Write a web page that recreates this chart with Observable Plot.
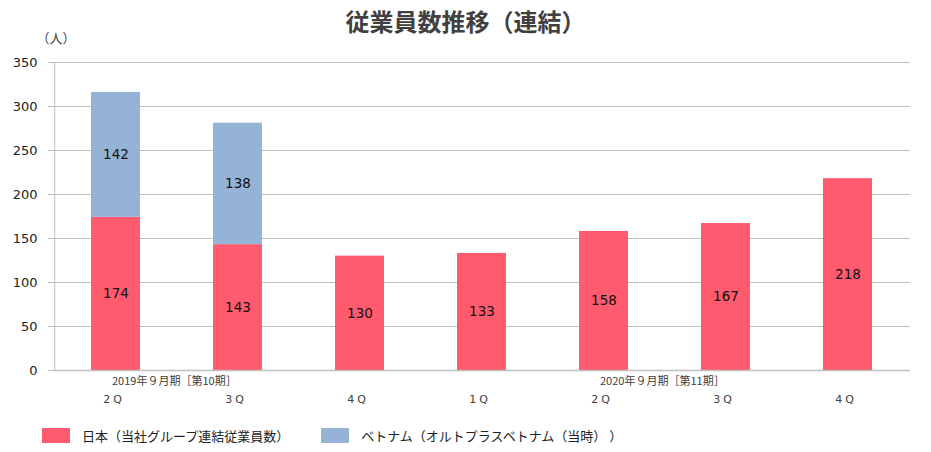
<!DOCTYPE html>
<html><head><meta charset="utf-8">
<script src="https://cdn.jsdelivr.net/npm/d3@7"></script>
<script src="https://cdn.jsdelivr.net/npm/@observablehq/plot@0.6"></script>
<style>
body{margin:0;background:#fff;font-family:"Noto Sans CJK JP","Noto Sans",sans-serif;}
#title{height:20px;overflow:visible;text-align:center;position:relative;z-index:1;}
#title span{display:inline-block;line-height:42px;font-size:24px;font-weight:bold;color:#404040;}
#legend{display:flex;align-items:center;height:46px;padding-left:42px;font-size:13px;color:#222;}
.sw{width:28px;height:15px;display:inline-block;margin-right:12px;}
.item{display:flex;align-items:center;margin-right:32px;}
.q{letter-spacing:3px;}
</style></head>
<body>
<div id="title"><span>従業員数推移（連結）</span></div>
<div id="chart"></div>
<div id="legend"></div>
<script>
const keys = ["2019-2Q","2019-3Q","2019-4Q","2020-1Q","2020-2Q","2020-3Q","2020-4Q"];
const quarterLabels = ["2Q","3Q","4Q","1Q","2Q","3Q","4Q"];
const periodLabels = [{key:"2019-2Q", text:"2019年９月期［第10期］"},{key:"2020-2Q", text:"2020年９月期［第11期］"}];
const seriesNames = ["日本（当社グループ連結従業員数）","ベトナム（オルトプラスベトナム（当時） ）"];
const japan = [174,143,130,133,158,167,218];
const vietnam = [142,138,null,null,null,null,null];
const colors = ["#FF5A6E","#95B3D7"];
const yTicks = [0,50,100,150,200,250,300,350];

const data = [];
keys.forEach((k,i)=>{
  data.push({key:k, series:seriesNames[0], value:japan[i]});
  if (vietnam[i] != null) data.push({key:k, series:seriesNames[1], value:vietnam[i]});
});

const numFont = '"DejaVu Sans","Noto Sans",sans-serif';
const chart = Plot.plot({
  width: 931,
  height: 392,
  marginTop: 42,
  marginBottom: 42,
  marginLeft: 52,
  marginRight: 21,
  style: {fontFamily: '"Noto Sans CJK JP","Noto Sans",sans-serif', fontSize: "13px", color: "#222", overflow: "visible"},
  x: {domain: keys, paddingInner: 0.6, paddingOuter: 0.3, axis: null},
  y: {domain: [0,350], ticks: yTicks},
  color: {domain: seriesNames, range: colors},
  marks: [
    Plot.gridY(yTicks, {stroke: "#bfbfbf", strokeOpacity: 1}),
    Plot.axisY(yTicks, {tickSize: 4, tickPadding: 11, stroke: "#bfbfbf", strokeOpacity: 1, label: null, fontSize: 13, fill: "#222", fontFamily: numFont}),
    Plot.ruleX([0], {x: () => keys[0], stroke: "#bfbfbf", dx: -61.3}),
    Plot.barY(data, {x: "key", y: "value", fill: "series"}),
    Plot.text(data, Plot.stackY({x: "key", y: "value", text: d => String(d.value), fill: "#111", fontSize: 13.5, fontFamily: numFont})),
    Plot.ruleY([0], {stroke: "#bfbfbf", strokeWidth: 1.5}),
    Plot.text(keys, {x: d => d, text: (d,i) => quarterLabels[i], frameAnchor: "bottom", dy: 32, dx: -2, fontSize: 11, fill: "#404040", className: "q", fontFamily: numFont}),
    Plot.text(periodLabels, {x: "key", text: "text", frameAnchor: "bottom", dy: 14, dx: -4, textAnchor: "start", fontSize: 11, fill: "#404040"}),
    Plot.text(["（人）"], {frameAnchor: "top-left", dx: -16, dy: -29, textAnchor: "start", fontSize: 13, fill: "#404040"})
  ]
});
document.getElementById("chart").appendChild(chart);

const leg = document.getElementById("legend");
seriesNames.forEach((s,i)=>{
  const it = document.createElement("div"); it.className="item";
  it.innerHTML = `<span class="sw" style="background:${colors[i]}"></span><span>${s}</span>`;
  leg.appendChild(it);
});
</script>
</body></html>
